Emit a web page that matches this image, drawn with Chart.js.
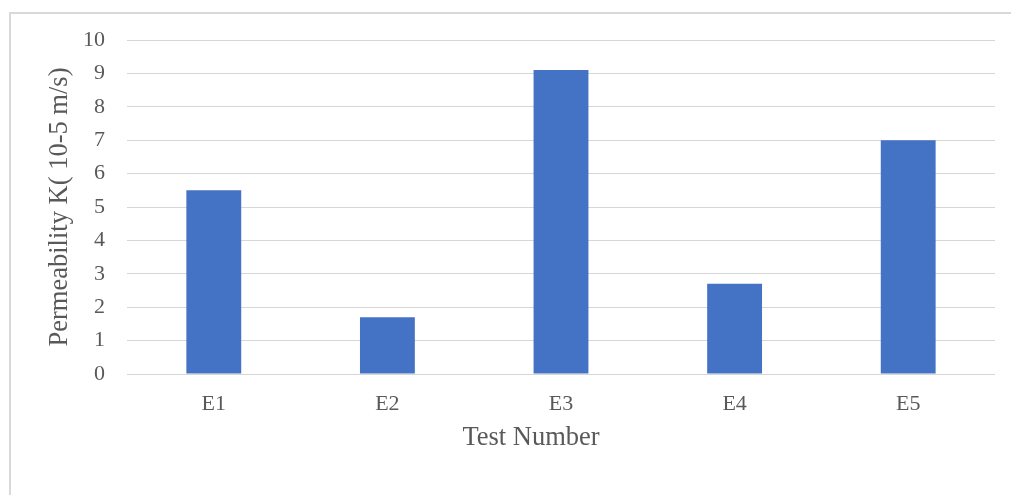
<!DOCTYPE html>
<html>
<head>
<meta charset="utf-8">
<script src="https://cdn.jsdelivr.net/npm/chart.js@4/dist/chart.umd.min.js"></script>
<style>
  html, body { margin: 0; padding: 0; background: #ffffff; }
  #wrap { position: relative; width: 1011px; height: 495px; }
</style>
</head>
<body>
<div id="wrap"><canvas id="chart" width="1011" height="495"></canvas></div>
<script>
// Permeability measured in each test
const categories = ['E1', 'E2', 'E3', 'E4', 'E5'];
const permeability = [5.5, 1.7, 9.1, 2.7, 7.0];
const yTicks = [0, 1, 2, 3, 4, 5, 6, 7, 8, 9, 10];
const xTitle = 'Test Number';
const yTitle = 'Permeability K( 10-5 m/s)';

const serif = "'Liberation Serif', 'Times New Roman', serif";
const textColor = '#595959';
const gridColor = '#d6d6d6';

// Light frame around the chart, plus the horizontal axis title
// (centred a little left of the plot, as in the original layout)
const framePlugin = {
  id: 'frame',
  beforeDraw(chart) {
    const ctx = chart.ctx;
    ctx.save();
    ctx.fillStyle = '#ffffff';
    ctx.fillRect(0, 0, chart.width, chart.height);
    ctx.strokeStyle = '#d9d9d9';
    ctx.lineWidth = 2;
    ctx.strokeRect(10, 13, chart.width + 40, chart.height + 40);
    ctx.restore();
  },
  afterDraw(chart) {
    const ctx = chart.ctx;
    const area = chart.chartArea;
    ctx.save();
    ctx.fillStyle = textColor;
    ctx.font = "26.5px " + serif;
    ctx.textAlign = 'center';
    ctx.textBaseline = 'middle';
    ctx.fillText(xTitle, (area.left + area.right) / 2 - 30, area.bottom + 64);
    ctx.restore();
  }
};

new Chart(document.getElementById('chart'), {
  type: 'bar',
  data: {
    labels: categories,
    datasets: [{
      label: 'Permeability',
      data: permeability,
      backgroundColor: '#4472c4',
      borderWidth: 0,
      categoryPercentage: 1,
      barPercentage: 0.316
    }]
  },
  options: {
    responsive: false,
    animation: false,
    layout: { padding: { left: 34, right: 16, top: 40, bottom: 26 } },
    plugins: {
      legend: { display: false },
      tooltip: { enabled: false }
    },
    scales: {
      x: {
        grid: { display: false, drawTicks: false },
        border: { display: false },
        ticks: {
          color: textColor,
          font: { family: serif, size: 22 },
          padding: 17
        },
        title: { display: false },
        afterFit(scale) { scale.height = 95; }
      },
      y: {
        min: 0,
        max: 10,
        grid: { color: gridColor, lineWidth: 1, drawTicks: false },
        border: { display: false },
        afterBuildTicks(scale) { scale.ticks = yTicks.map(v => ({ value: v })); },
        ticks: {
          color: textColor,
          font: { family: serif, size: 22 },
          padding: 22
        },
        title: {
          display: true,
          text: yTitle,
          color: textColor,
          font: { family: serif, size: 26.5 },
          padding: { top: 10, bottom: 0 }
        },
        afterFit(scale) { scale.width = 93; }
      }
    }
  },
  plugins: [framePlugin]
});
</script>
</body>
</html>
